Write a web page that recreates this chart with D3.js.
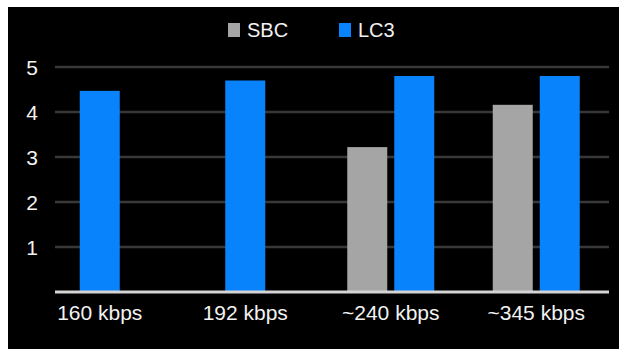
<!DOCTYPE html>
<html>
<head>
<meta charset="utf-8">
<script src="https://cdn.jsdelivr.net/npm/d3@7"></script>
<style>
  html, body { margin: 0; padding: 0; background: #fff; }
  svg { display: block; font-family: "Liberation Sans", Arial, sans-serif; }
</style>
</head>
<body>
<div id="chart"></div>
<script>
// chart data
var categories = ['160 kbps', '192 kbps', '~240 kbps', '~345 kbps'];
var seriesNames = ['SBC', 'LC3'];
var sbcValues = [0, 0, 3.22, 4.16];
var lc3Values = [4.47, 4.70, 4.80, 4.80];
var yTicks = [1, 2, 3, 4, 5];
var seriesColors = { SBC: '#a5a5a5', LC3: '#0883fb' };

var width = 619, height = 349;

var svg = d3.select('#chart').append('svg')
	.attr('width', width)
	.attr('height', height);

// black panel
svg.append('rect')
	.attr('x', 8).attr('y', 7)
	.attr('width', width - 8).attr('height', height - 7)
	.attr('fill', '#000');

// scales
var xScale = d3.scaleBand()
	.domain(categories)
	.range([27, 609]);
var yScale = d3.scaleLinear()
	.domain([0, 5])
	.range([292, 67]);

var barWidth = 40, barGap = 7;

// gridlines
svg.append('g').selectAll('line').data(yTicks)
	.enter().append('line')
	.attr('x1', 55).attr('x2', 609)
	.attr('y1', function(d) { return yScale(d); })
	.attr('y2', function(d) { return yScale(d); })
	.attr('stroke', '#383838')
	.attr('stroke-width', 2.5);

// y labels
svg.append('g').selectAll('text').data(yTicks)
	.enter().append('text')
	.attr('x', 38)
	.attr('y', function(d) { return yScale(d); })
	.attr('dy', '0.36em')
	.attr('text-anchor', 'end')
	.attr('fill', '#f2f2f2')
	.attr('font-size', 21)
	.text(function(d) { return d; });

// bars, centered within each category (only series that have a value)
var rows = categories.map(function(c, i) {
	var vals = [
		{ name: 'SBC', value: sbcValues[i] },
		{ name: 'LC3', value: lc3Values[i] }
	].filter(function(v) { return v.value > 0; });
	var total = vals.length * barWidth + (vals.length - 1) * barGap;
	var left = xScale(c) + xScale.bandwidth() / 2 - total / 2;
	vals.forEach(function(v, j) { v.x = left + j * (barWidth + barGap); });
	return vals;
});

svg.append('g').selectAll('rect')
	.data([].concat.apply([], rows))
	.enter().append('rect')
	.attr('x', function(d) { return d.x; })
	.attr('y', function(d) { return yScale(d.value); })
	.attr('width', barWidth)
	.attr('height', function(d) { return yScale(0) - yScale(d.value); })
	.attr('fill', function(d) { return seriesColors[d.name]; });

// baseline
svg.append('line')
	.attr('x1', 55).attr('x2', 609)
	.attr('y1', yScale(0)).attr('y2', yScale(0))
	.attr('stroke', '#d4d4d4')
	.attr('stroke-width', 3);

// x labels
svg.append('g').selectAll('text').data(categories)
	.enter().append('text')
	.attr('x', function(d) { return xScale(d) + xScale.bandwidth() / 2; })
	.attr('y', 320)
	.attr('text-anchor', 'middle')
	.attr('fill', '#f2f2f2')
	.attr('font-size', 21)
	.text(function(d) { return d; });

// legend
var legendX = { SBC: 228, LC3: 339 };
var legend = svg.append('g').selectAll('g').data(seriesNames)
	.enter().append('g')
	.attr('transform', function(d) { return 'translate(' + legendX[d] + ',0)'; });
legend.append('rect')
	.attr('x', 0).attr('y', 23)
	.attr('width', 12).attr('height', 14)
	.attr('fill', function(d) { return seriesColors[d]; });
legend.append('text')
	.attr('x', 19).attr('y', 37)
	.attr('fill', '#f2f2f2')
	.attr('font-size', 20)
	.text(function(d) { return d; });
</script>
</body>
</html>
